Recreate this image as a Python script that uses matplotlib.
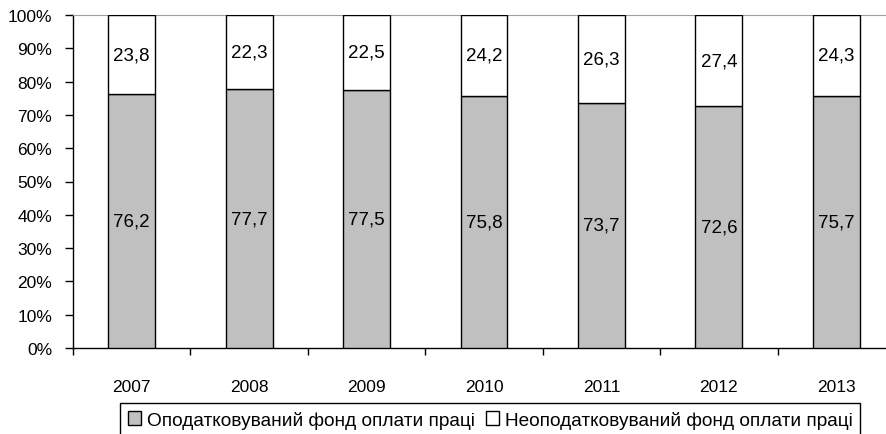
import matplotlib
matplotlib.use("Agg")
import matplotlib.pyplot as plt
from matplotlib.patches import Patch
from matplotlib.ticker import FuncFormatter

plt.rcParams['font.family'] = ['Liberation Sans', 'DejaVu Sans']

years = ["2007", "2008", "2009", "2010", "2011", "2012", "2013"]
taxed = [76.2, 77.7, 77.5, 75.8, 73.7, 72.6, 75.7]
untaxed = [23.8, 22.3, 22.5, 24.2, 26.3, 27.4, 24.3]
series_names = ["Оподатковуваний фонд оплати праці", "Неоподатковуваний фонд оплати праці"]

W, H = 887, 435
fig = plt.figure(figsize=(W / 100, H / 100), dpi=100)
left, right, top, bottom = 73, 895, 16, 349
ax = fig.add_axes([left / W, 1 - bottom / H, (right - left) / W, (bottom - top) / H])

x = list(range(len(years)))
bw = 0.40
ax.bar(x, taxed, width=bw, color="#c0c0c0", edgecolor="black", linewidth=1.0, zorder=3)
ax.bar(x, untaxed, width=bw, bottom=taxed, color="white", edgecolor="black", linewidth=1.0, zorder=3)

for xi, a, b in zip(x, taxed, untaxed):
    ax.text(xi, a / 2, f"{a:.1f}".replace(".", ","), ha="center", va="center", fontsize=13.5, zorder=4)
    ax.text(xi, a + b / 2, f"{b:.1f}".replace(".", ","), ha="center", va="center", fontsize=13.5, zorder=4)

ax.set_xlim(-0.5, len(years) - 0.5)
ax.set_ylim(0, 100)
ax.set_yticks(range(0, 101, 10))
ax.yaxis.set_major_formatter(FuncFormatter(lambda v, p: f"{int(v)}%"))
ax.set_xticks(x)
ax.set_xticklabels(years)
ax.set_xticks([i - 0.5 for i in range(len(years) + 1)], minor=True)
ax.tick_params(axis="x", which="major", length=0, pad=22, labelsize=12.5)
ax.tick_params(axis="x", which="minor", length=5, width=1, direction="out")
ax.tick_params(axis="y", length=6, width=1, direction="out", pad=9, labelsize=12.5)

ax.spines["right"].set_visible(False)
ax.spines["top"].set_color("#a0a0a0")
ax.spines["left"].set_linewidth(1)
ax.spines["bottom"].set_linewidth(1)

handles = [Patch(facecolor="#c0c0c0", edgecolor="black", linewidth=1),
           Patch(facecolor="white", edgecolor="black", linewidth=1)]
leg = fig.legend(handles, series_names, loc="upper left",
                 bbox_to_anchor=(120 / W, 1 - 404 / H), ncol=2, fontsize=13.7,
                 frameon=True, fancybox=False, edgecolor="black", framealpha=1,
                 handlelength=0.7, handleheight=0.7, handletextpad=0.3,
                 columnspacing=0.6, borderpad=0.4, borderaxespad=0)
leg.get_frame().set_linewidth(1)

fig.savefig("out.png", dpi=100)
